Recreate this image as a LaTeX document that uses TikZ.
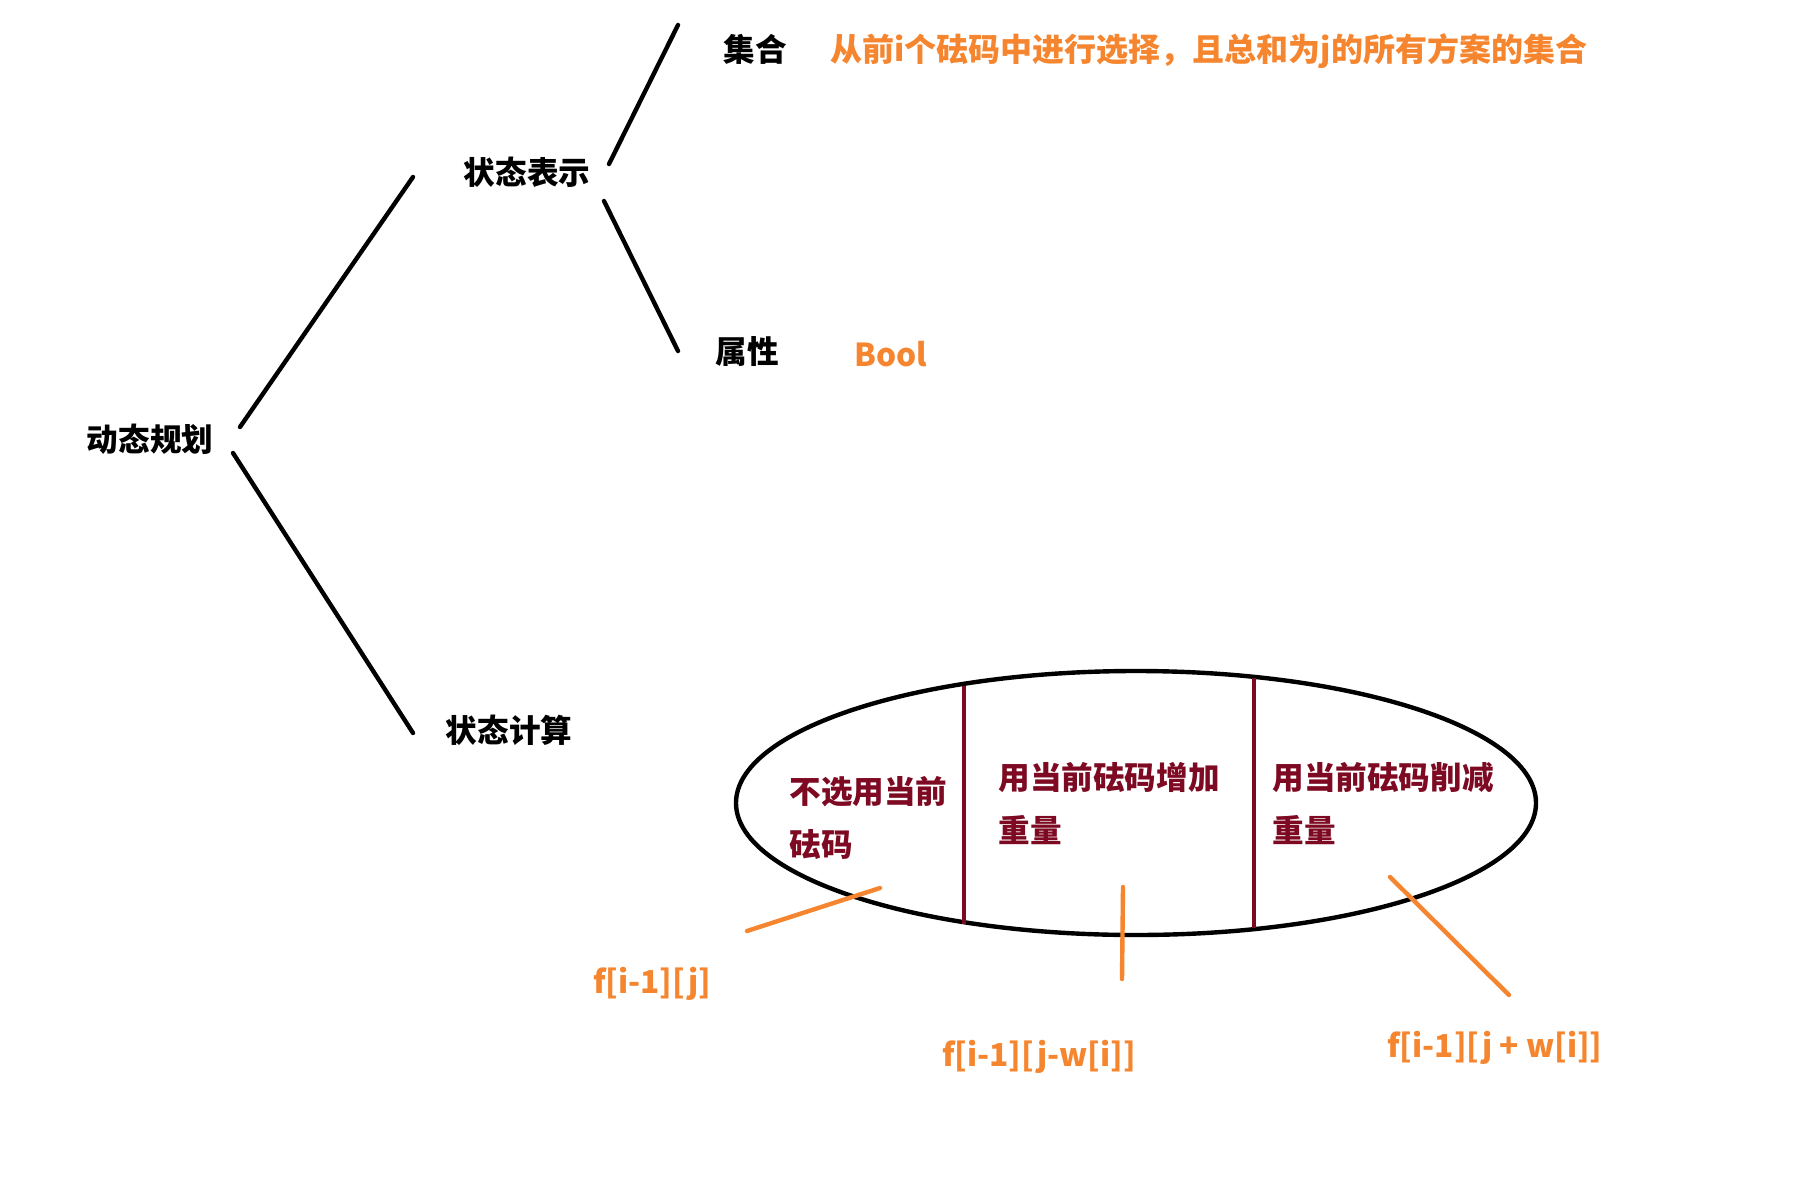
\documentclass[tikz,border=0pt]{standalone}
\usepackage{fontspec}
\setmainfont{Noto Sans CJK SC}
\usetikzlibrary{positioning}
\definecolor{Tone}{HTML}{F5862F}
\definecolor{Wine}{HTML}{7D0A22}

\begin{document}
\begin{tikzpicture}[x=0.5pt,y=-0.5pt]
\tikzset{
  label/.style={font=\fontsize{15.8}{26.5}\selectfont\bfseries,inner sep=0pt},
  inner/.style={label,text=Wine,anchor=west,align=left},
  note/.style={label,text=Tone},
  branch/.style={line width=2.2pt,line cap=round},
  part/.style={Wine,line width=2.2pt},
  pointer/.style={Tone,line width=2.2pt,line cap=round}
}
\useasboundingbox (0,0) rectangle (1815,1199);
% tree labels
\node[label] (dp) at (150,439) {动态规划};
\node[label] (rep) at (527,172) {状态表示};
\node[label] (calc) at (509,730) {状态计算};
\node[label] (set) at (755,49) {集合};
\node[label] (attr) at (747,351) {属性};
\node[note,anchor=west,font=\fontsize{16}{20}\selectfont\bfseries] (setdesc) at (830,51) {从前i个砝码中进行选择，且总和为j的所有方案的集合};
\node[note] (bool) at (891,354) {Bool};
% tree branches
\coordinate (a1) at (240,427); \coordinate (a2) at (413,177);
\coordinate (b1) at (233,453); \coordinate (b2) at (413,733);
\coordinate (c1) at (609,164); \coordinate (c2) at (678,25);
\coordinate (d1) at (604,201); \coordinate (d2) at (678,351);
\draw[branch] (a1) -- (a2);
\draw[branch] (b1) -- (b2);
\draw[branch] (c1) -- (c2);
\draw[branch] (d1) -- (d2);
% the set of choices
\draw[black,line width=2.2pt] (1136,803) ellipse [x radius=200pt,y radius=66pt];
\coordinate (p1) at (964,686); \coordinate (p2) at (964,924);
\coordinate (q1) at (1254,678); \coordinate (q2) at (1254,928);
\draw[part] (p1) -- (p2);
\draw[part] (q1) -- (q2);
\node[inner] (skip) at (789,818) {不选用当前\\砝码};
\node[inner] (add) at (998,804) {用当前砝码增加\\重量};
\node[inner] (sub) at (1272,804) {用当前砝码削减\\重量};
% transitions
\node[note] (fskip) at (652,984) {f[i-1][j]};
\node[note] (fadd) at (1039,1057) {f[i-1][j-w[i]]};
\node[note] (fsub) at (1495,1048) {f[i-1][j + w[i]]};
\coordinate (r1) at (747,931); \coordinate (r2) at (880,888);
\coordinate (s1) at (1123,887); \coordinate (s2) at (1122,979);
\coordinate (t1) at (1390,877); \coordinate (t2) at (1509,995);
\draw[pointer] (r1) -- (r2);
\draw[pointer] (s1) -- (s2);
\draw[pointer] (t1) -- (t2);
\end{tikzpicture}
\end{document}
